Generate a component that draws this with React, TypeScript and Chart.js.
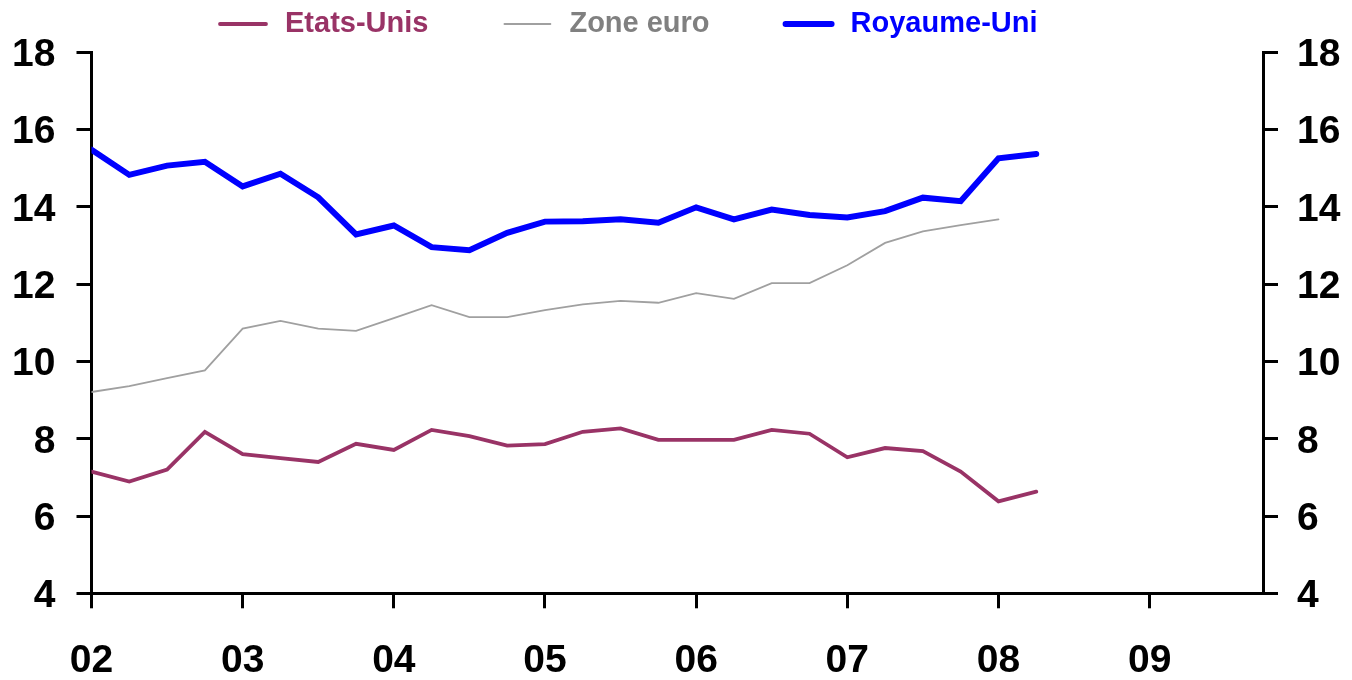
import React, { useEffect, useRef } from "react";
import { Chart, registerables } from "chart.js";

Chart.register(...registerables);

// ---- data ----
const yearLabels = ["02", "03", "04", "05", "06", "07", "08", "09"];
const yearTickQuarters = [0, 4, 8, 12, 16, 20, 24, 28];
const yTicks = [4, 6, 8, 10, 12, 14, 16, 18];

const etatsUnis = [
  7.15, 6.89, 7.2, 8.18, 7.6, 7.5, 7.4, 7.87, 7.71, 8.23, 8.07, 7.82, 7.86,
  8.18, 8.27, 7.97, 7.97, 7.97, 8.23, 8.13, 7.52, 7.76, 7.68, 7.15, 6.38, 6.63,
];
const zoneEuro = [
  9.21, 9.36, 9.57, 9.77, 10.85, 11.05, 10.85, 10.79, 11.12, 11.46, 11.15,
  11.15, 11.33, 11.48, 11.57, 11.52, 11.77, 11.62, 12.03, 12.03, 12.49, 13.07,
  13.37, 13.53, 13.68,
];
const royaumeUni = [
  15.48, 14.83, 15.07, 15.17, 14.53, 14.86, 14.25, 13.29, 13.52, 12.96, 12.88,
  13.33, 13.62, 13.63, 13.68, 13.59, 13.99, 13.68, 13.93, 13.79, 13.73, 13.89,
  14.24, 14.15, 15.26, 15.37,
];

const seriesNames = ["Etats-Unis", "Zone euro", "Royaume-Uni"];
const lineColors = ["#993366", "#A0A0A0", "#0000FF"];
const textColors = ["#993366", "#808080", "#0000FF"];
const lineWidths = [3.8, 1.8, 6];

const FONT = '"Liberation Sans", Arial, Helvetica, sans-serif';

const legendPlugin = {
  id: "customLegend",
  afterDraw(chart: any) {
    const ctx = chart.ctx as CanvasRenderingContext2D;
    ctx.save();
    ctx.font = `bold 29px ${FONT}`;
    ctx.textBaseline = "middle";
    ctx.textAlign = "left";
    let x = 210;
    const y = 16;
    seriesNames.forEach((name, i) => {
      ctx.strokeStyle = lineColors[i];
      ctx.lineWidth = lineWidths[i];
      ctx.lineCap = "round";
      ctx.beginPath();
      ctx.moveTo(x + 2, y);
      ctx.lineTo(x + 48, y);
      ctx.stroke();
      ctx.fillStyle = textColors[i];
      const tx = x + 67;
      ctx.fillText(name, tx, y);
      x = tx + ctx.measureText(name).width + 74;
    });
    ctx.restore();
  },
};

export default function App() {
  const ref = useRef<HTMLCanvasElement | null>(null);

  useEffect(() => {
    if (!ref.current) return;
    const series = [etatsUnis, zoneEuro, royaumeUni];
    const yAxisCommon = {
      type: "linear" as const,
      min: 4,
      max: 18,
      afterBuildTicks: (scale: any) => {
        scale.ticks = yTicks.map((v) => ({ value: v }));
      },
      grid: {
        drawOnChartArea: false,
        drawTicks: true,
        tickLength: 15,
        lineWidth: 3,
        color: "#000000",
      },
      border: { display: true, width: 3, color: "#000000" },
    };
    const chart = new Chart(ref.current, {
      type: "line",
      data: {
        datasets: series.map((vals, i) => ({
          label: seriesNames[i],
          data: vals.map((v, q) => ({ x: q, y: v })),
          borderColor: lineColors[i],
          backgroundColor: lineColors[i],
          borderWidth: lineWidths[i],
          pointRadius: 0,
          borderCapStyle: "round" as const,
          tension: 0,
          fill: false,
        })),
      },
      options: {
        animation: false,
        responsive: true,
        maintainAspectRatio: false,
        layout: { padding: { top: 41.3, left: 0, right: 0, bottom: 0 } },
        plugins: {
          legend: { display: false },
          title: { display: false },
          tooltip: { enabled: false },
        },
        scales: {
          x: {
            type: "linear",
            min: 0,
            max: 31,
            afterBuildTicks: (scale: any) => {
              scale.ticks = yearTickQuarters.map((v) => ({ value: v }));
            },
            afterFit: (scale: any) => {
              scale.height = 78.7;
            },
            ticks: {
              autoSkip: false,
              maxRotation: 0,
              padding: 30,
              color: "#000000",
              font: { family: FONT, size: 39, weight: "bold" },
              callback: (v: any) => {
                const idx = yearTickQuarters.indexOf(Number(v));
                return idx >= 0 ? yearLabels[idx] : "";
              },
            },
            grid: {
              drawOnChartArea: false,
              drawTicks: true,
              tickLength: 15,
              lineWidth: 3,
              color: "#000000",
            },
            border: { display: true, width: 3, color: "#000000" },
          },
          y: {
            ...yAxisCommon,
            position: "left",
            afterFit: (scale: any) => {
              scale.width = 83.5;
            },
            ticks: {
              padding: 21,
              labelOffset: 3,
              color: "#000000",
              font: { family: FONT, size: 39, weight: "bold" },
            },
          },
          y2: {
            ...yAxisCommon,
            position: "right",
            afterFit: (scale: any) => {
              scale.width = 81;
            },
            ticks: {
              padding: 19,
              labelOffset: 3,
              color: "#000000",
              font: { family: FONT, size: 39, weight: "bold" },
            },
          },
        },
      },
      plugins: [legendPlugin],
    });
    return () => chart.destroy();
  }, []);

  return (
    <div style={{ width: 1336, height: 664, position: "relative" }}>
      <canvas ref={ref} />
    </div>
  );
}
